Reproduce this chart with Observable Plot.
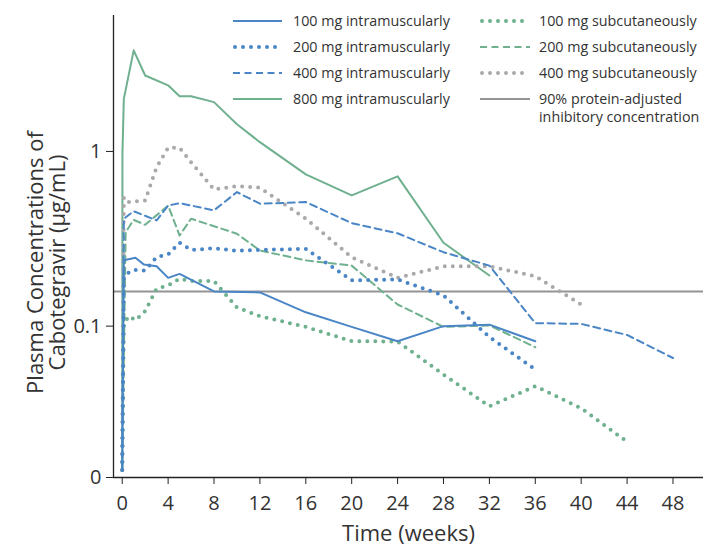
<!DOCTYPE html>
<html>
<head>
<meta charset="utf-8">
<script src="https://cdn.jsdelivr.net/npm/d3@7"></script>
<script src="https://cdn.jsdelivr.net/npm/@observablehq/plot@0.6"></script>
<style>
  html, body { margin: 0; padding: 0; background: #fff; }
  #chart { width: 712px; height: 548px; }
</style>
</head>
<body>
<div id="chart"></div>
<script>
// ---- Data (weeks, µg/mL) ----
const seriesNames = [
  "100 mg intramuscularly", "200 mg intramuscularly", "400 mg intramuscularly", "800 mg intramuscularly",
  "100 mg subcutaneously", "200 mg subcutaneously", "400 mg subcutaneously"
];
const refLabel = "90% protein-adjusted\ninhibitory concentration";
const refValue = 0.158;

const tIM100 = [0, 0.14, 1.15, 1.9, 3, 4, 5, 8, 12, 16, 20, 24, 28, 32, 36];
const vIM100 = [0.015, 0.238, 0.246, 0.225, 0.22, 0.189, 0.199, 0.158, 0.156, 0.12, 0.099, 0.082, 0.1, 0.102, 0.082];

const tIM200 = [0, 0.14, 1, 2, 3, 4, 5, 6, 8, 10, 12, 16, 20, 24, 28, 32, 36];
const vIM200 = [0.015, 0.195, 0.21, 0.208, 0.249, 0.257, 0.30, 0.273, 0.279, 0.27, 0.273, 0.277, 0.183, 0.185, 0.15, 0.0866, 0.0564];

const tIM400 = [0, 0.14, 1, 3, 4, 5, 8, 10, 12, 16, 20, 24, 28, 32, 36, 40, 44, 48];
const vIM400 = [0.015, 0.412, 0.455, 0.403, 0.49, 0.506, 0.46, 0.585, 0.502, 0.513, 0.389, 0.34, 0.265, 0.222, 0.104, 0.103, 0.089, 0.0657];

const tIM800 = [0, 0.02, 0.14, 1, 2, 4, 5, 6, 8, 10, 12, 16, 20, 24, 28, 32];
const vIM800 = [0.015, 0.98, 2.0, 3.79, 2.72, 2.39, 2.07, 2.07, 1.915, 1.43, 1.13, 0.739, 0.56, 0.72, 0.30, 0.195];

const tSC100 = [0, 0.14, 0.57, 1.16, 2, 3, 4, 5, 6, 8, 10, 12, 16, 20, 24, 28, 32, 36, 40, 44];
const vSC100 = [0.015, 0.103, 0.114, 0.108, 0.122, 0.164, 0.171, 0.187, 0.181, 0.181, 0.128, 0.114, 0.099, 0.082, 0.0817, 0.0528, 0.0348, 0.0453, 0.0339, 0.0218];

const tSC200 = [0, 0.3, 1, 2, 4, 5, 6, 10, 12, 16, 20, 24, 28, 32, 36];
const vSC200 = [0.015, 0.345, 0.406, 0.38, 0.49, 0.33, 0.412, 0.338, 0.271, 0.238, 0.222, 0.133, 0.099, 0.101, 0.0757];

const tSC400 = [0, 0.14, 0.57, 2, 3, 4, 5, 6, 8, 10, 12, 16, 20, 24, 28, 32, 36, 40];
const vSC400 = [0.015, 0.547, 0.513, 0.524, 0.813, 1.05, 1.05, 0.868, 0.606, 0.633, 0.62, 0.412, 0.248, 0.189, 0.22, 0.22, 0.193, 0.133];

const xTicks = [0, 4, 8, 12, 16, 20, 24, 28, 32, 36, 40, 44, 48];
const yZero = 0.0136;           // position labelled "0" on the log axis
const yTicks = [yZero, 0.1, 1];
const yTickLabels = ["0", "0.1", "1"];

// ---- Styles ----
const BLUE = "#4a86c5", GREEN = "#6fb08f", GRAY = "#a9a9ab", REF = "#949494";
const styles = [
  {stroke: BLUE, kind: "solid"},
  {stroke: BLUE, kind: "dot"},
  {stroke: BLUE, kind: "dash"},
  {stroke: GREEN, kind: "solid"},
  {stroke: GREEN, kind: "dot"},
  {stroke: GREEN, kind: "dash"},
  {stroke: GRAY, kind: "dot"}
];
function strokeProps(kind) {
  if (kind === "dot") return {strokeWidth: 4, strokeDasharray: "0 8", strokeLinecap: "round"};
  if (kind === "dash") return {strokeWidth: 2, strokeDasharray: "7 4.5"};
  return {strokeWidth: 2};
}

const times = [tIM100, tIM200, tIM400, tIM800, tSC100, tSC200, tSC400];
const vals  = [vIM100, vIM200, vIM400, vIM800, vSC100, vSC200, vSC400];
const seriesData = times.map((ts, i) => ts.map((t, j) => ({week: t, conc: vals[i][j], series: seriesNames[i]})));

const xDomain = [-0.76, 50.66];
const yDomain = [yZero, 6];
const FONT = "'Open Sans', sans-serif";
const TXT = "#333";

const drawOrder = [3, 6, 5, 2, 4, 1, 0];
const lineMarks = drawOrder.map(i => Plot.line(seriesData[i], {
  x: "week", y: "conc", stroke: styles[i].stroke, strokeLinejoin: "round", ...strokeProps(styles[i].kind)
}));

const chart = Plot.plot({
  width: 712,
  height: 548,
  marginTop: 15,
  marginBottom: 71,
  marginLeft: 113,
  marginRight: 9,
  style: {fontFamily: FONT, color: TXT, background: "#fff", overflow: "visible"},
  x: {domain: xDomain},
  y: {type: "log", domain: yDomain},
  marks: [
    Plot.ruleY([refValue], {stroke: REF, strokeWidth: 2}),
    ...lineMarks,
    Plot.ruleX([xDomain[0]], {stroke: "#222", strokeWidth: 1.3}),
    Plot.ruleY([yDomain[0]], {stroke: "#222", strokeWidth: 1.3}),
    Plot.axisX({ticks: xTicks, tickSize: 7, tickPadding: 11, fontSize: 20, label: null, stroke: "#222", fill: TXT}),
    Plot.axisY({ticks: yTicks, tickFormat: d => yTickLabels[yTicks.indexOf(d)], tickSize: 7, tickPadding: 5, fontSize: 20, label: null, stroke: "#222", fill: TXT}),
    Plot.text(["Plasma Concentrations of\nCabotegravir (µg/mL)"], {frameAnchor: "left", textAnchor: "middle", lineAnchor: "middle", rotate: -90, dx: -67, dy: 16, fontSize: 22, lineHeight: 1.0, fill: TXT}),
    Plot.text(["Time (weeks)"], {frameAnchor: "bottom", lineAnchor: "middle", dy: 56, fontSize: 22, fill: TXT})
  ]
});
document.getElementById("chart").appendChild(chart);

// ---- Legend (inside the SVG) ----
const svg = d3.select(chart);
const legendItems = seriesNames.map((name, i) => ({name, ...styles[i]}))
  .concat([{name: refLabel, stroke: REF, kind: "solid"}]);
const colX = [[233, 282, 293], [480, 530, 539]];
const rowY = [21, 47, 73, 99];
const order = [[0, 1, 2, 3], [4, 5, 6, 7]];
const lg = svg.append("g").attr("font-family", FONT).attr("font-size", 14.3).attr("fill", TXT).attr("text-anchor", "start");
order.forEach((col, c) => col.forEach((idx, r) => {
  const it = legendItems[idx];
  const sp = strokeProps(it.kind);
  const [x1, x2, tx] = colX[c];
  const y = rowY[r];
  const ln = lg.append("line").attr("x1", it.kind === "dot" ? x1 + 2 : x1).attr("x2", x2).attr("y1", y).attr("y2", y)
    .attr("stroke", it.stroke).attr("stroke-width", sp.strokeWidth);
  if (sp.strokeDasharray) ln.attr("stroke-dasharray", sp.strokeDasharray);
  if (sp.strokeLinecap) ln.attr("stroke-linecap", sp.strokeLinecap);
  const lines = it.name.split("\n");
  const t = lg.append("text").attr("x", tx).attr("y", y);
  lines.forEach((s, k) => t.append("tspan").attr("x", tx).attr("dy", k === 0 ? "0.35em" : "1.25em").text(s));
}));
</script>
</body>
</html>
